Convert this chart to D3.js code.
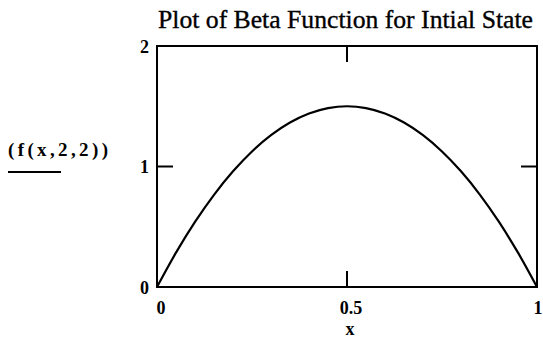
<!DOCTYPE html>
<html><head><meta charset="utf-8">
<script src="https://cdn.jsdelivr.net/npm/d3@7"></script>
<style>
html,body{margin:0;padding:0;background:#fff;overflow:hidden}
svg{display:block}
text{font-family:"Liberation Serif","Times New Roman",serif;fill:#000}
</style></head><body>
<svg id="c" width="543" height="338"></svg>
<script>
const titleText = "Plot of Beta Function for Intial State";
const yLabelText = "(f(x,2,2))";
const xLabelText = "x";
const xTickValues = [0, 0.5, 1];
const xTickLabels = ["0", "0.5", "1"];
const yTickValues = [0, 1, 2];
const yTickLabels = ["0", "1", "2"];
const xValues = [0,0.05,0.1,0.15,0.2,0.25,0.3,0.35,0.4,0.45,0.5,0.55,0.6,0.65,0.7,0.75,0.8,0.85,0.9,0.95,1];
const fValues = [0,0.285,0.54,0.765,0.96,1.125,1.26,1.365,1.44,1.485,1.5,1.485,1.44,1.365,1.26,1.125,0.96,0.765,0.54,0.285,0];

const svg = d3.select("#c");
const L = 157, R = 537, T = 46, B = 287;
const x = d3.scaleLinear().domain([0,1]).range([L,R]);
const y = d3.scaleLinear().domain([0,2]).range([B,T]);

// Title
svg.append("text").attr("x", 158).attr("y", 28)
  .attr("font-size", 25.5).attr("textLength", 375).attr("lengthAdjust","spacingAndGlyphs")
  .attr("stroke","#000").attr("stroke-width",0.35)
  .text(titleText);

// Ticks (inside, mid only visible)
const tickLen = 16;
const gx = svg.append("g");
[0.5].forEach(v => {
  gx.append("line").attr("x1", x(v)).attr("x2", x(v)).attr("y1", B).attr("y2", B - tickLen).attr("stroke","#000").attr("stroke-width",2);
  gx.append("line").attr("x1", x(v)).attr("x2", x(v)).attr("y1", T).attr("y2", T + tickLen).attr("stroke","#000").attr("stroke-width",2);
});
[1].forEach(v => {
  gx.append("line").attr("x1", L).attr("x2", L + tickLen).attr("y1", y(v)).attr("y2", y(v)).attr("stroke","#000").attr("stroke-width",2);
  gx.append("line").attr("x1", R).attr("x2", R - tickLen).attr("y1", y(v)).attr("y2", y(v)).attr("stroke","#000").attr("stroke-width",2);
});

// Frame
svg.append("rect").attr("x", L).attr("y", T).attr("width", R - L).attr("height", B - T)
  .attr("fill","none").attr("stroke","#000").attr("stroke-width",2);

// Tick labels
xTickValues.forEach((v,i) => {
  const off = i === xTickValues.length - 1 ? 1 : 4;
  svg.append("text").attr("x", x(v) + off).attr("y", 314).attr("text-anchor","middle")
    .attr("font-size", 18).attr("font-weight","bold").text(xTickLabels[i]);
});
yTickValues.forEach((v,i) => {
  svg.append("text").attr("x", 149).attr("y", y(v) + 6.5).attr("text-anchor","end")
    .attr("font-size", 18).attr("font-weight","bold").text(yTickLabels[i]);
});

// Axis label x
svg.append("text").attr("x", 350).attr("y", 335).attr("text-anchor","middle")
  .attr("font-size", 18).attr("font-weight","bold").text(xLabelText);

// Y label with underline
svg.append("text").attr("x", 8).attr("y", 156)
  .attr("font-size", 19).attr("font-weight","bold")
  .attr("textLength", 100).attr("lengthAdjust","spacing").text(yLabelText);
svg.append("line").attr("x1", 8).attr("x2", 61).attr("y1", 172).attr("y2", 172)
  .attr("stroke","#000").attr("stroke-width",2);

// Curve
const line = d3.line().x((d,i)=>x(xValues[i])).y(d=>y(d)).curve(d3.curveCatmullRom);
svg.append("path").datum(fValues).attr("d", line)
  .attr("fill","none").attr("stroke","#000").attr("stroke-width",2.2);
</script>
</body></html>
